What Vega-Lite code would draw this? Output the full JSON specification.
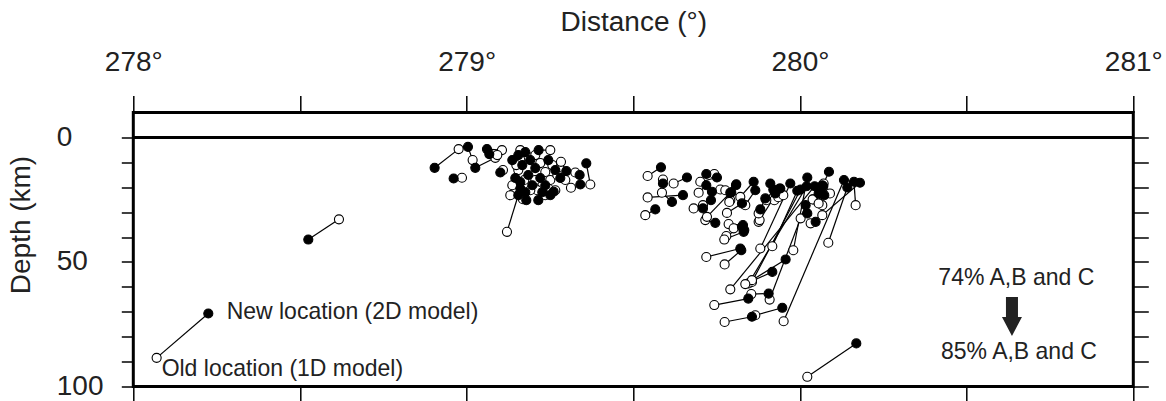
{
"$schema": "https://vega.github.io/schema/vega-lite/v6.json",
"width": 1000, "height": 274,
"autosize": {"type": "none"},
"padding": {"left": 133.3, "top": 112.5, "right": 32, "bottom": 14},
"background": "white",
"config": {
 "view": {"stroke": "black", "strokeWidth": 3},
 "font": "Liberation Sans",
 "axis": {"domain": false, "grid": false, "tickColor": "black", "tickWidth": 1.5, "labelColor": "#222", "titleColor": "#222", "labelFont": "Liberation Sans", "titleFont": "Liberation Sans", "labelFontSize": 28, "titleFontSize": 28, "titleFontWeight": "normal", "labelOverlap": false, "labelFlush": false}
},
"datasets": {
 "pairs": [
  {"id":"L","kind":"new","dist":278.225,"depth":70.7},{"id":"L","kind":"old","dist":278.070,"depth":88.5},
  {"id":"P1","kind":"new","dist":278.525,"depth":41.0},{"id":"P1","kind":"old","dist":278.617,"depth":32.9},
  {"id":"P2","kind":"new","dist":280.169,"depth":82.7},{"id":"P2","kind":"old","dist":280.022,"depth":96.1},
  {"id":"C1","kind":"new","dist":278.904,"depth":12.2},{"id":"C1","kind":"old","dist":278.976,"depth":4.7},
  {"id":"C2","kind":"new","dist":279.004,"depth":3.8},{"id":"C2","kind":"old","dist":279.018,"depth":9.1},
  {"id":"C3","kind":"new","dist":279.026,"depth":12.2},{"id":"C3","kind":"old","dist":279.086,"depth":8.2},
  {"id":"C4","kind":"new","dist":279.061,"depth":4.7},{"id":"C4","kind":"old","dist":279.106,"depth":5.1},
  {"id":"C5","kind":"new","dist":279.068,"depth":6.7},{"id":"C5","kind":"old","dist":279.092,"depth":7.1},
  {"id":"C6","kind":"new","dist":278.961,"depth":16.5},{"id":"C6","kind":"old","dist":278.986,"depth":16.2},
  {"id":"C7","kind":"new","dist":279.101,"depth":14.1},{"id":"C7","kind":"old","dist":279.109,"depth":13.1},
  {"id":"C8","kind":"new","dist":279.216,"depth":5.1},{"id":"C8","kind":"old","dist":279.251,"depth":5.1},
  {"id":"C9","kind":"new","dist":279.161,"depth":20.5},{"id":"C9","kind":"old","dist":279.121,"depth":37.9},
  {"id":"C10","kind":"new","dist":279.299,"depth":13.5},{"id":"C10","kind":"old","dist":279.283,"depth":9.8},
  {"id":"C11","kind":"new","dist":279.339,"depth":15.1},{"id":"C11","kind":"old","dist":279.326,"depth":14.1},
  {"id":"C12","kind":"new","dist":279.359,"depth":10.4},{"id":"C12","kind":"old","dist":279.371,"depth":18.9},
  {"id":"C13","kind":"new","dist":279.341,"depth":18.9},{"id":"C13","kind":"old","dist":279.313,"depth":20.2},
  {"id":"C14","kind":"new","dist":279.155,"depth":23.2},{"id":"C14","kind":"old","dist":279.131,"depth":23.2},
  {"id":"C15","kind":"new","dist":279.176,"depth":22.0},{"id":"C15","kind":"old","dist":279.169,"depth":24.8},
  {"id":"C16","kind":"new","dist":279.261,"depth":21.8},{"id":"C16","kind":"old","dist":279.245,"depth":20.4},
  {"id":"C17","kind":"new","dist":279.155,"depth":7.1},{"id":"C17","kind":"old","dist":279.161,"depth":5.1},
  {"id":"C18","kind":"new","dist":279.176,"depth":5.9},{"id":"C18","kind":"old","dist":279.185,"depth":7.9},
  {"id":"C19","kind":"new","dist":279.191,"depth":9.1},{"id":"C19","kind":"old","dist":279.206,"depth":7.1},
  {"id":"C20","kind":"new","dist":279.167,"depth":11.1},{"id":"C20","kind":"old","dist":279.155,"depth":13.1},
  {"id":"C21","kind":"new","dist":279.206,"depth":12.3},{"id":"C21","kind":"old","dist":279.221,"depth":10.3},
  {"id":"C22","kind":"new","dist":279.185,"depth":15.1},{"id":"C22","kind":"old","dist":279.173,"depth":17.1},
  {"id":"C23","kind":"new","dist":279.221,"depth":16.3},{"id":"C23","kind":"old","dist":279.236,"depth":13.9},
  {"id":"C24","kind":"new","dist":279.236,"depth":19.2},{"id":"C24","kind":"old","dist":279.251,"depth":17.1},
  {"id":"C25","kind":"new","dist":279.197,"depth":19.2},{"id":"C25","kind":"old","dist":279.212,"depth":21.2},
  {"id":"C26","kind":"new","dist":279.245,"depth":9.1},{"id":"C26","kind":"old","dist":279.257,"depth":11.1},
  {"id":"C27","kind":"new","dist":279.146,"depth":16.3},{"id":"C27","kind":"old","dist":279.161,"depth":9.1},
  {"id":"C28","kind":"new","dist":279.227,"depth":22.0},{"id":"C28","kind":"old","dist":279.206,"depth":17.1},
  {"id":"C29","kind":"new","dist":279.266,"depth":13.1},{"id":"C29","kind":"old","dist":279.272,"depth":15.1},
  {"id":"C30","kind":"new","dist":279.281,"depth":16.3},{"id":"C30","kind":"old","dist":279.296,"depth":17.1},
  {"id":"C31","kind":"new","dist":279.179,"depth":25.2},{"id":"C31","kind":"old","dist":279.191,"depth":21.2},
  {"id":"C32","kind":"new","dist":279.251,"depth":23.2},{"id":"C32","kind":"old","dist":279.266,"depth":21.2},
  {"id":"C33","kind":"new","dist":279.137,"depth":9.1},{"id":"C33","kind":"old","dist":279.149,"depth":11.1},
  {"id":"C34","kind":"new","dist":279.215,"depth":25.2},{"id":"C34","kind":"old","dist":279.236,"depth":23.2},
  {"id":"C35","kind":"new","dist":279.161,"depth":17.9},{"id":"C35","kind":"old","dist":279.137,"depth":19.2},
  {"id":"D1","kind":"new","dist":279.583,"depth":12.0},{"id":"D1","kind":"old","dist":279.543,"depth":15.5},
  {"id":"D2","kind":"new","dist":279.589,"depth":18.5},{"id":"D2","kind":"old","dist":279.589,"depth":16.9},
  {"id":"D3","kind":"new","dist":279.661,"depth":16.1},{"id":"D3","kind":"old","dist":279.621,"depth":18.5},
  {"id":"D4","kind":"new","dist":279.649,"depth":23.2},{"id":"D4","kind":"old","dist":279.543,"depth":24.1},
  {"id":"D5","kind":"new","dist":279.616,"depth":25.9},{"id":"D5","kind":"old","dist":279.586,"depth":22.2},
  {"id":"D6","kind":"new","dist":279.566,"depth":28.9},{"id":"D6","kind":"old","dist":279.536,"depth":31.2},
  {"id":"D7","kind":"new","dist":279.719,"depth":14.7},{"id":"D7","kind":"old","dist":279.743,"depth":14.7},
  {"id":"D8","kind":"new","dist":279.751,"depth":16.1},{"id":"D8","kind":"old","dist":279.701,"depth":17.8},
  {"id":"D9","kind":"new","dist":279.719,"depth":19.2},{"id":"D9","kind":"old","dist":279.696,"depth":22.2},
  {"id":"D10","kind":"new","dist":279.736,"depth":21.8},{"id":"D10","kind":"old","dist":279.761,"depth":20.9},
  {"id":"D11","kind":"new","dist":279.733,"depth":25.2},{"id":"D11","kind":"old","dist":279.709,"depth":27.2},
  {"id":"D12","kind":"new","dist":279.709,"depth":28.5},{"id":"D12","kind":"old","dist":279.681,"depth":28.5},
  {"id":"D13","kind":"new","dist":279.746,"depth":34.3},{"id":"D13","kind":"old","dist":279.716,"depth":33.2},
  {"id":"D14","kind":"new","dist":279.791,"depth":22.2},{"id":"D14","kind":"old","dist":279.721,"depth":31.9},
  {"id":"D15","kind":"new","dist":279.809,"depth":18.8},{"id":"D15","kind":"old","dist":279.791,"depth":25.2},
  {"id":"D16","kind":"new","dist":279.826,"depth":26.5},{"id":"D16","kind":"old","dist":279.781,"depth":30.3},
  {"id":"D17","kind":"new","dist":279.861,"depth":17.8},{"id":"D17","kind":"old","dist":279.821,"depth":23.9},
  {"id":"D18","kind":"new","dist":279.866,"depth":21.2},{"id":"D18","kind":"old","dist":279.836,"depth":27.2},
  {"id":"D19","kind":"new","dist":279.829,"depth":35.2},{"id":"D19","kind":"old","dist":279.786,"depth":34.8},
  {"id":"D20","kind":"new","dist":279.833,"depth":37.2},{"id":"D20","kind":"old","dist":279.801,"depth":36.5},
  {"id":"D21","kind":"new","dist":279.826,"depth":35.9},{"id":"D21","kind":"old","dist":279.779,"depth":39.6},
  {"id":"D22","kind":"new","dist":279.831,"depth":37.9},{"id":"D22","kind":"old","dist":279.773,"depth":41.0},
  {"id":"D23","kind":"new","dist":279.881,"depth":28.9},{"id":"D23","kind":"old","dist":279.876,"depth":33.9},
  {"id":"D24","kind":"new","dist":279.911,"depth":18.5},{"id":"D24","kind":"old","dist":279.923,"depth":25.2},
  {"id":"D25","kind":"new","dist":279.920,"depth":20.9},{"id":"D25","kind":"old","dist":279.899,"depth":25.2},
  {"id":"D26","kind":"new","dist":279.939,"depth":20.5},{"id":"D26","kind":"old","dist":279.879,"depth":33.2},
  {"id":"D28","kind":"new","dist":279.896,"depth":24.5},{"id":"D28","kind":"old","dist":279.876,"depth":30.5},
  {"id":"D29","kind":"new","dist":279.971,"depth":18.5},{"id":"D29","kind":"old","dist":279.881,"depth":44.6},
  {"id":"D30","kind":"new","dist":279.992,"depth":21.4},{"id":"D30","kind":"old","dist":279.917,"depth":43.7},
  {"id":"D31","kind":"new","dist":280.022,"depth":16.1},{"id":"D31","kind":"old","dist":279.980,"depth":45.3},
  {"id":"D32","kind":"new","dist":280.020,"depth":19.6},{"id":"D32","kind":"old","dist":279.846,"depth":58.6},
  {"id":"D33","kind":"new","dist":280.002,"depth":20.9},{"id":"D33","kind":"old","dist":279.856,"depth":58.0},
  {"id":"D34","kind":"new","dist":280.044,"depth":19.6},{"id":"D34","kind":"old","dist":279.791,"depth":61.0},
  {"id":"D35","kind":"new","dist":280.070,"depth":19.6},{"id":"D35","kind":"old","dist":280.040,"depth":24.9},
  {"id":"D36","kind":"new","dist":280.087,"depth":13.8},{"id":"D36","kind":"old","dist":280.071,"depth":18.5},
  {"id":"D37","kind":"new","dist":280.062,"depth":22.5},{"id":"D37","kind":"old","dist":280.067,"depth":27.2},
  {"id":"D38","kind":"new","dist":280.073,"depth":23.2},{"id":"D38","kind":"old","dist":280.090,"depth":22.5},
  {"id":"D39","kind":"new","dist":280.022,"depth":30.5},{"id":"D39","kind":"old","dist":280.002,"depth":32.5},
  {"id":"D40","kind":"new","dist":280.047,"depth":33.9},{"id":"D40","kind":"old","dist":280.032,"depth":34.5},
  {"id":"D41","kind":"new","dist":280.056,"depth":22.5},{"id":"D41","kind":"old","dist":280.038,"depth":24.9},
  {"id":"D42","kind":"new","dist":280.067,"depth":19.2},{"id":"D42","kind":"old","dist":280.056,"depth":26.5},
  {"id":"D43","kind":"new","dist":280.132,"depth":17.1},{"id":"D43","kind":"old","dist":279.951,"depth":73.8},
  {"id":"D44","kind":"new","dist":280.142,"depth":20.1},{"id":"D44","kind":"old","dist":280.085,"depth":42.3},
  {"id":"D45","kind":"new","dist":280.162,"depth":17.8},{"id":"D45","kind":"old","dist":280.167,"depth":27.2},
  {"id":"D46","kind":"new","dist":280.180,"depth":18.2},{"id":"D46","kind":"old","dist":280.067,"depth":31.2},
  {"id":"D47","kind":"new","dist":279.821,"depth":44.6},{"id":"D47","kind":"old","dist":279.719,"depth":48.0},
  {"id":"D48","kind":"new","dist":279.824,"depth":45.3},{"id":"D48","kind":"old","dist":279.774,"depth":51.0},
  {"id":"D49","kind":"new","dist":279.957,"depth":49.0},{"id":"D49","kind":"old","dist":279.856,"depth":57.3},
  {"id":"D50","kind":"new","dist":279.917,"depth":54.0},{"id":"D50","kind":"old","dist":279.836,"depth":58.9},
  {"id":"D51","kind":"new","dist":279.845,"depth":64.7},{"id":"D51","kind":"old","dist":279.743,"depth":67.3},
  {"id":"D52","kind":"new","dist":279.906,"depth":62.7},{"id":"D52","kind":"old","dist":279.854,"depth":62.9},
  {"id":"D53","kind":"new","dist":280.017,"depth":27.2},{"id":"D53","kind":"old","dist":279.909,"depth":65.1},
  {"id":"D54","kind":"new","dist":279.856,"depth":72.0},{"id":"D54","kind":"old","dist":279.774,"depth":74.1},
  {"id":"D55","kind":"new","dist":279.947,"depth":68.4},{"id":"D55","kind":"old","dist":279.866,"depth":71.4},
  {"id":"D56","kind":"new","dist":279.794,"depth":22.1},{"id":"D56","kind":"old","dist":279.788,"depth":25.9},
  {"id":"D57","kind":"new","dist":279.808,"depth":19.2},{"id":"D57","kind":"old","dist":279.776,"depth":21.2},
  {"id":"D59","kind":"new","dist":279.926,"depth":22.5},{"id":"D59","kind":"old","dist":279.935,"depth":24.0},
  {"id":"D60","kind":"new","dist":279.941,"depth":20.5},{"id":"D60","kind":"old","dist":279.950,"depth":23.2}
 ],
 "one": [{}]
},
"resolve": {"axis": {"x": "independent", "y": "independent"}},
"layer": [
 {
  "data": {"name": "pairs"},
  "mark": {"type": "line", "stroke": "black", "strokeWidth": 1.2},
  "encoding": {
   "x": {"field": "dist", "type": "quantitative", "scale": {"domain": [278, 281], "nice": false, "zero": false},
         "axis": {"orient": "top", "values": [278, 278.5, 279, 279.5, 280, 280.5, 281], "labelExpr": "datum.value % 1 === 0 ? datum.value + '°' : ''", "tickSize": 17, "labelPadding": 19, "title": "Distance (°)", "titleY": -76, "titleX": 500}},
   "y": {"field": "depth", "type": "quantitative", "scale": {"domain": [-10, 100], "reverse": true, "nice": false, "zero": false},
         "axis": {"orient": "left", "values": [0, 10, 20, 30, 40, 50, 60, 70, 80, 90, 100], "labelExpr": "datum.value % 50 === 0 ? datum.value : ''", "tickSize": 12, "labelPadding": 65, "labelAlign": "left", "title": "Depth (km)", "titleX": -98, "titleY": 112}},
   "detail": {"field": "id"}
  }
 },
 {
  "data": {"name": "pairs"},
  "mark": {"type": "point", "shape": "circle", "filled": true, "stroke": "black", "strokeWidth": 1.1, "size": 82, "opacity": 1},
  "encoding": {
   "x": {"field": "dist", "type": "quantitative", "scale": {"domain": [278, 281], "nice": false, "zero": false},
         "axis": {"orient": "bottom", "values": [278, 278.5, 279, 279.5, 280, 280.5, 281], "labels": false, "tickSize": 14, "title": null}},
   "y": {"field": "depth", "type": "quantitative", "scale": {"domain": [-10, 100], "reverse": true, "nice": false, "zero": false},
         "axis": {"orient": "right", "values": [0, 10, 20, 30, 40, 50, 60, 70, 80, 90, 100], "labels": false, "tickSize": 15, "title": null}},
   "fill": {"field": "kind", "type": "nominal", "scale": {"domain": ["new", "old"], "range": ["black", "white"]}, "legend": null},
   "order": {"field": "kind", "sort": "descending"}
  }
 },
 {
  "data": {"name": "one"},
  "mark": {"type": "rule", "stroke": "black", "strokeWidth": 3},
  "encoding": {"y": {"datum": 0, "type": "quantitative", "scale": {"domain": [-10, 100], "reverse": true, "nice": false, "zero": false}, "axis": null}}
 },
 {
  "data": {"name": "one"},
  "mark": {"type": "text", "text": "New location (2D model)", "align": "left", "baseline": "middle", "fontSize": 23, "font": "Liberation Sans", "color": "#222"},
  "encoding": {"x": {"datum": 278.28, "type": "quantitative", "scale": {"domain": [278, 281], "nice": false, "zero": false}, "axis": null},
               "y": {"datum": 69.9, "type": "quantitative", "scale": {"domain": [-10, 100], "reverse": true, "nice": false, "zero": false}, "axis": null}}
 },
 {
  "data": {"name": "one"},
  "mark": {"type": "text", "text": "Old location (1D model)", "align": "left", "baseline": "middle", "fontSize": 23, "font": "Liberation Sans", "color": "#222"},
  "encoding": {"x": {"datum": 278.085, "type": "quantitative", "scale": {"domain": [278, 281], "nice": false, "zero": false}, "axis": null},
               "y": {"datum": 92.8, "type": "quantitative", "scale": {"domain": [-10, 100], "reverse": true, "nice": false, "zero": false}, "axis": null}}
 },
 {
  "data": {"name": "one"},
  "mark": {"type": "text", "text": "74% A,B and C", "align": "center", "baseline": "middle", "fontSize": 23, "font": "Liberation Sans", "color": "#222"},
  "encoding": {"x": {"datum": 280.649, "type": "quantitative", "scale": {"domain": [278, 281], "nice": false, "zero": false}, "axis": null},
               "y": {"datum": 56.6, "type": "quantitative", "scale": {"domain": [-10, 100], "reverse": true, "nice": false, "zero": false}, "axis": null}}
 },
 {
  "data": {"name": "one"},
  "mark": {"type": "text", "text": "85% A,B and C", "align": "center", "baseline": "middle", "fontSize": 23, "font": "Liberation Sans", "color": "#222"},
  "encoding": {"x": {"datum": 280.657, "type": "quantitative", "scale": {"domain": [278, 281], "nice": false, "zero": false}, "axis": null},
               "y": {"datum": 86.3, "type": "quantitative", "scale": {"domain": [-10, 100], "reverse": true, "nice": false, "zero": false}, "axis": null}}
 },
 {
  "data": {"name": "one"},
  "mark": {"type": "point", "shape": "M-0.308,-1L0.308,-1L0.308,0.03L0.513,0.03L0,1L-0.513,0.03L-0.308,0.03Z", "filled": true, "fill": "#222", "strokeWidth": 0, "size": 1521, "opacity": 1},
  "encoding": {"x": {"datum": 280.636, "type": "quantitative", "scale": {"domain": [278, 281], "nice": false, "zero": false}, "axis": null},
               "y": {"datum": 71.9, "type": "quantitative", "scale": {"domain": [-10, 100], "reverse": true, "nice": false, "zero": false}, "axis": null}}
 }
]
}
